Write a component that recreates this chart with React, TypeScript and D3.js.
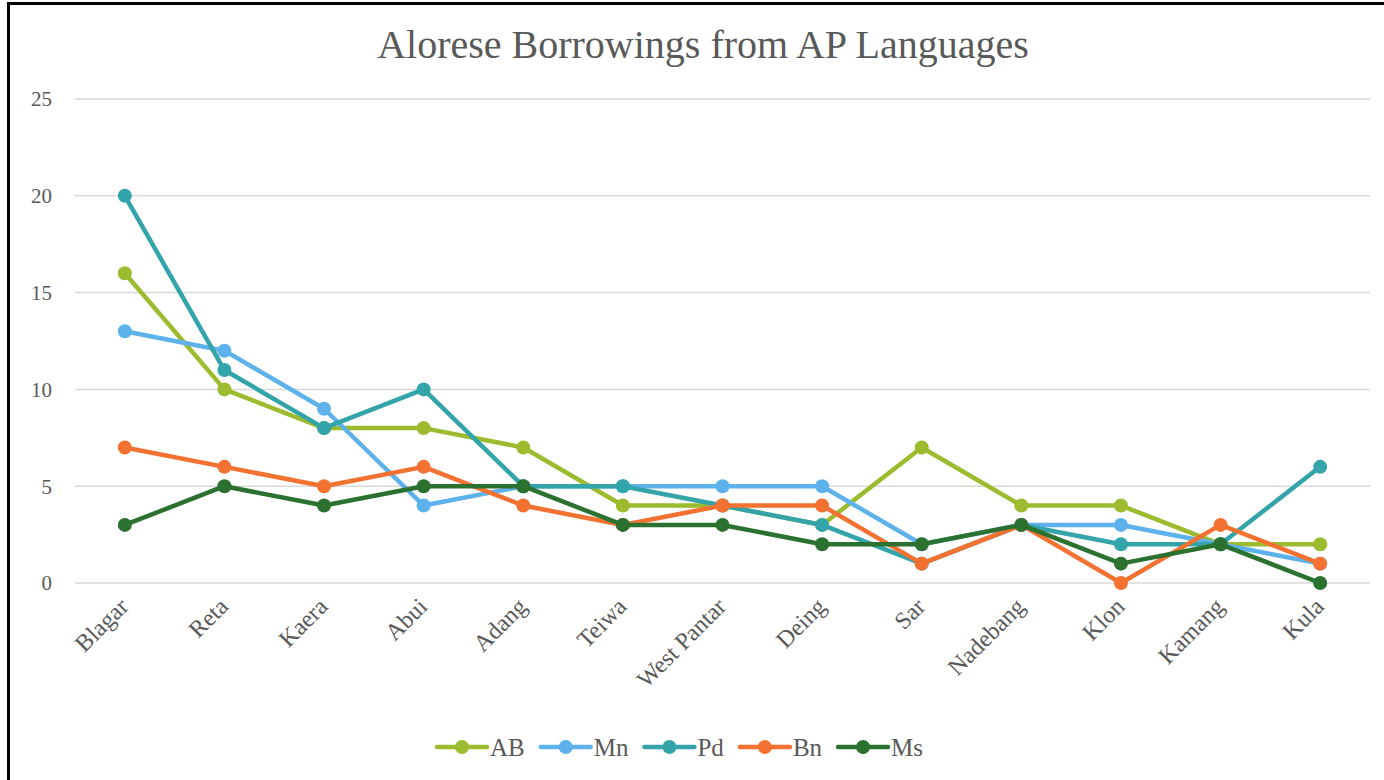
import React, { useEffect, useRef } from "react";
import * as d3 from "d3";

const categories = ["Blagar", "Reta", "Kaera", "Abui", "Adang", "Teiwa", "West Pantar", "Deing", "Sar", "Nadebang", "Klon", "Kamang", "Kula"];
const abValues = [16, 10, 8, 8, 7, 4, 4, 3, 7, 4, 4, 2, 2];
const mnValues = [13, 12, 9, 4, 5, 5, 5, 5, 2, 3, 3, 2, 1];
const pdValues = [20, 11, 8, 10, 5, 5, 4, 3, 1, 3, 2, 2, 6];
const bnValues = [7, 6, 5, 6, 4, 3, 4, 4, 1, 3, 0, 3, 1];
const msValues = [3, 5, 4, 5, 5, 3, 3, 2, 2, 3, 1, 2, 0];
const seriesNames = ["AB", "Mn", "Pd", "Bn", "Ms"];
const seriesColors = ["#9cbb2f", "#5db2ec", "#33a4aa", "#f37131", "#2b7230"];
const yTicks = [0, 5, 10, 15, 20, 25];
const titleText = "Alorese Borrowings from AP Languages";

const W = 1384;
const H = 780;
const FONT = "'Liberation Serif', 'DejaVu Serif', serif";
const TEXT = "#595959";

export default function App() {
  const ref = useRef<SVGSVGElement>(null);

  useEffect(() => {
    const svg = d3.select(ref.current);
    svg.selectAll("*").remove();
    const seriesValues = [abValues, mnValues, pdValues, bnValues, msValues];

    svg.append("rect").attr("x", 0).attr("y", 0).attr("width", W).attr("height", H).attr("fill", "#fff");
    // frame
    svg.append("rect")
      .attr("x", 8.5).attr("y", 3.5).attr("width", W + 20).attr("height", H + 20)
      .attr("fill", "none").attr("stroke", "#000").attr("stroke-width", 3);

    const x = d3.scaleBand<string>().domain(categories).range([75, 1370]);
    const y = d3.scaleLinear().domain([0, 25]).range([583, 99]);
    const cx = (c: string) => (x(c) as number) + x.bandwidth() / 2;

    // title
    svg.append("text")
      .attr("x", 703).attr("y", 58)
      .attr("text-anchor", "middle")
      .attr("font-family", FONT).attr("font-size", 40)
      .attr("fill", TEXT)
      .text(titleText);

    // gridlines
    svg.append("g").selectAll("line").data(yTicks).join("line")
      .attr("x1", 75).attr("x2", 1370)
      .attr("y1", (d) => y(d)).attr("y2", (d) => y(d))
      .attr("stroke", "#d9d9d9").attr("stroke-width", 1.5);

    // y labels
    svg.append("g").selectAll("text").data(yTicks).join("text")
      .attr("x", 52).attr("y", (d) => y(d))
      .attr("dy", "0.35em")
      .attr("text-anchor", "end")
      .attr("font-family", FONT).attr("font-size", 21)
      .attr("fill", TEXT)
      .text((d) => String(d));

    // x labels
    svg.append("g").selectAll("text").data(categories).join("text")
      .attr("transform", (d) => `translate(${cx(d) + 5},${608}) rotate(-45)`)
      .attr("text-anchor", "end")
      .attr("font-family", FONT).attr("font-size", 24)
      .attr("fill", TEXT)
      .text((d) => d);

    // series
    const line = d3.line<number>()
      .x((_, i) => cx(categories[i]))
      .y((d) => y(d));
    seriesValues.forEach((vals, si) => {
      const g = svg.append("g");
      g.append("path")
        .datum(vals)
        .attr("d", line)
        .attr("fill", "none")
        .attr("stroke", seriesColors[si])
        .attr("stroke-width", 4.5)
        .attr("stroke-linejoin", "round")
        .attr("stroke-linecap", "round");
      g.selectAll("circle").data(vals).join("circle")
        .attr("cx", (_, i) => cx(categories[i]))
        .attr("cy", (d) => y(d))
        .attr("r", 7)
        .attr("fill", seriesColors[si]);
    });

    // legend
    const lg = svg.append("g");
    let lx = 437;
    const ly = 747;
    seriesNames.forEach((name, si) => {
      lg.append("line")
        .attr("x1", lx).attr("x2", lx + 50)
        .attr("y1", ly).attr("y2", ly)
        .attr("stroke", seriesColors[si]).attr("stroke-width", 4.5)
        .attr("stroke-linecap", "round");
      lg.append("circle")
        .attr("cx", lx + 25).attr("cy", ly).attr("r", 7)
        .attr("fill", seriesColors[si]);
      const t = lg.append("text")
        .attr("x", lx + 53).attr("y", ly)
        .attr("dy", "0.35em")
        .attr("font-family", FONT).attr("font-size", 25)
        .attr("fill", TEXT)
        .text(name);
      const tw = (t.node() as SVGTextElement).getComputedTextLength();
      lx = lx + 53 + tw + 16;
    });
  }, []);

  return (
    <svg
      ref={ref}
      width={W}
      height={H}
      style={{ position: "absolute", left: 0, top: 0, display: "block" }}
    />
  );
}
